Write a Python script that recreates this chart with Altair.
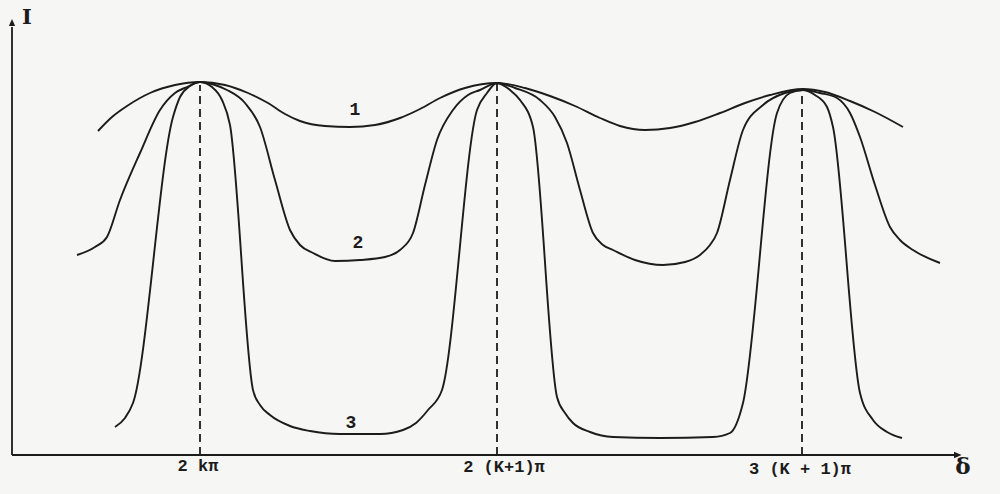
import altair as alt
import pandas as pd

# Transmitted intensity I versus phase difference delta (arbitrary units)
# for three reflectivities: 1 = low, 2 = medium, 3 = high.
curve1_delta = [86, 100, 115, 138, 163, 188, 213, 236, 256, 273, 288, 313, 338, 363, 388, 408, 428,
                453, 485, 513, 538, 563, 588, 608, 633, 658, 683, 708, 733, 758, 791, 813, 838,
                863, 891]
curve1_I = [324, 338, 349, 362, 370, 373, 370, 362, 352, 341, 334, 329, 328, 330, 337, 346, 357,
            367, 372, 367, 359, 349, 337, 329, 325, 327, 333, 342, 352, 360, 366, 363, 354,
            343, 328]

curve2_delta = [65, 83, 95, 108, 128, 148, 163, 175, 188, 203, 215, 233, 248, 263, 278, 288, 301,
                323, 348, 373, 388, 401, 413, 425, 441, 456, 468, 485, 503, 528, 543, 555, 568,
                581, 591, 601, 623, 651, 673, 688, 698, 705, 718, 731, 751, 773, 791, 808, 825,
                838, 848, 863, 878, 888, 901, 928]
curve2_I = [200, 208, 218, 255, 302, 345, 362, 368, 373, 370, 365, 352, 328, 275, 225, 210, 202,
            194, 195, 198, 205, 222, 270, 315, 345, 360, 365, 372, 367, 355, 338, 312, 265,
            222, 210, 205, 195, 190, 193, 200, 210, 222, 275, 325, 350, 362, 365, 362, 357,
            342, 318, 270, 228, 215, 205, 192]

curve3_delta = [103, 113, 121, 161, 168, 178, 188, 200, 210, 218, 241, 248, 258, 278, 298, 328, 368,
                391, 404, 416, 430, 465, 475, 485, 498, 508, 521, 545, 553, 561, 578, 601, 648,
                701, 718, 731, 765, 778, 791, 803, 815, 821, 848, 861, 875, 890]
curve3_I = [28, 37, 52, 338, 358, 369, 373, 368, 355, 330, 65, 50, 40, 29, 24, 21, 21,
            25, 32, 45, 65, 345, 362, 372, 365, 355, 328, 58, 42, 32, 23, 18, 17,
            18, 22, 52, 342, 362, 365, 360, 348, 328, 62, 35, 23, 17]

peak_delta = [188, 485, 790]
peak_I = [370, 371, 364]
peak_labels = ["2 k\u03c0", "2 (K+1)\u03c0", "3 (K + 1)\u03c0"]
peak_label_delta = [186, 492, 788]
peak_label_I = [-11, -12, -14]

curve_names = ["1", "2", "3"]
curve_label_delta = [343, 346, 339]
curve_label_I = [345, 212, 32]

rows = []
for name, ds, vs in zip(curve_names, [curve1_delta, curve2_delta, curve3_delta],
                        [curve1_I, curve2_I, curve3_I]):
    for d, v in zip(ds, vs):
        rows.append({"curve": name, "delta": d, "I": v})
curves = pd.DataFrame(rows)

x_scale = alt.Scale(domain=[-12, 988], nice=False, zero=False)
y_scale = alt.Scale(domain=[-39, 455], nice=False, zero=False)
ink = "#1c1c1c"
font = "Liberation Mono"

lines = alt.Chart(curves).mark_line(
    interpolate="monotone", color=ink, strokeWidth=1.9
).encode(
    x=alt.X("delta:Q", scale=x_scale, axis=None),
    y=alt.Y("I:Q", scale=y_scale, axis=None),
    detail="curve:N",
    order="delta:Q",
)

peaks = pd.DataFrame({"delta": peak_delta, "top": peak_I, "base": [0, 0, 0],
                      "label": peak_labels, "label_delta": peak_label_delta,
                      "label_I": peak_label_I})

dashes = alt.Chart(peaks).mark_rule(color=ink, strokeWidth=1.8, strokeDash=[8, 5]).encode(
    x=alt.X("delta:Q", scale=x_scale, axis=None),
    y=alt.Y("base:Q", scale=y_scale, axis=None),
    y2="top:Q",
)

tick_text = alt.Chart(peaks).mark_text(
    font=font, fontSize=17, fontWeight="bold", color=ink, baseline="middle"
).encode(
    x=alt.X("label_delta:Q", scale=x_scale, axis=None),
    y=alt.Y("label_I:Q", scale=y_scale, axis=None),
    text="label:N",
)

axes_df = pd.DataFrame({
    "x": [0, 0], "x2": [0, 944],
    "y": [0, 0], "y2": [428, 0],
})
axes = alt.Chart(axes_df).mark_rule(color=ink, strokeWidth=1.8).encode(
    x=alt.X("x:Q", scale=x_scale, axis=None),
    x2="x2:Q",
    y=alt.Y("y:Q", scale=y_scale, axis=None),
    y2="y2:Q",
)

arrow_up = alt.Chart(pd.DataFrame({"x": [0], "y": [429]})).mark_point(
    shape="M-1,0L1,0L0,-2.2Z", filled=True, size=40, color=ink, opacity=1
).encode(
    x=alt.X("x:Q", scale=x_scale, axis=None),
    y=alt.Y("y:Q", scale=y_scale, axis=None),
)

arrow_right = alt.Chart(pd.DataFrame({"x": [942], "y": [0]})).mark_point(
    shape="M0,-1L0,1L2.4,0Z", filled=True, size=40, color=ink, opacity=1
).encode(
    x=alt.X("x:Q", scale=x_scale, axis=None),
    y=alt.Y("y:Q", scale=y_scale, axis=None),
)

axis_titles = alt.Chart(pd.DataFrame({
    "x": [15, 951], "y": [437, -12], "t": ["I", "\u03b4"], "s": [21, 23]
})).mark_text(font="DejaVu Serif", fontWeight="bold", color=ink, align="center",
              baseline="middle").encode(
    x=alt.X("x:Q", scale=x_scale, axis=None),
    y=alt.Y("y:Q", scale=y_scale, axis=None),
    text="t:N",
    size=alt.Size("s:Q", scale=None, legend=None),
)

curve_labels = alt.Chart(pd.DataFrame({
    "x": curve_label_delta, "y": curve_label_I, "t": curve_names
})).mark_text(font=font, fontSize=18, fontWeight="bold", color=ink, baseline="middle").encode(
    x=alt.X("x:Q", scale=x_scale, axis=None),
    y=alt.Y("y:Q", scale=y_scale, axis=None),
    text="t:N",
)

chart = alt.layer(
    dashes, lines, axes, arrow_up, arrow_right, tick_text, axis_titles, curve_labels
).properties(
    width=1000, height=494, autosize=alt.AutoSizeParams(type="none"), padding=0,
    background="#f6f6f4",
).configure_view(stroke=None)

chart.save("out.html", embed_options={"renderer": "svg", "actions": False})
